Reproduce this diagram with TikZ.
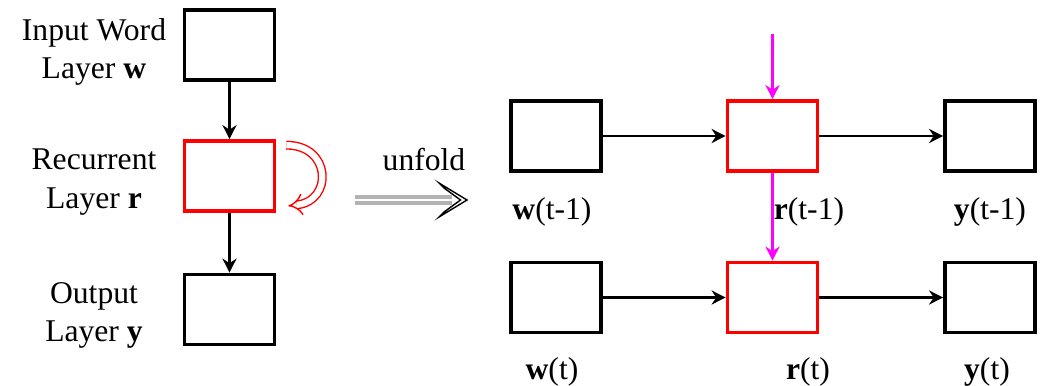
\documentclass[tikz,border=0pt]{standalone}
\usepackage{fontspec}
\setmainfont{Liberation Serif}
\usetikzlibrary{arrows.meta, calc}
\definecolor{feedmagenta}{RGB}{255,0,255}
\tikzset{
    my-box/.style={
      draw, line width=2.1pt, minimum width=1.8cm, minimum height=1.4cm, inner sep=0pt
    },
    my-rec-box/.style={
      my-box, draw=red
    },
    my-arrow/.style={
      -{Stealth[length=8pt, width=8pt]}, line width=1.5pt
    },
    my-feed/.style={
      my-arrow, draw=feedmagenta
    },
    my-label/.style={
      font=\fontsize{18}{22}\selectfont, align=center
    },
}

\begin{document}
\begin{tikzpicture}
        \useasboundingbox (0,0) rectangle (20.86,-7.7);

        % FOLDED NETWORK
        \node[my-box]     (IN)  at (4.59,-0.9)              {};
        \node[my-rec-box] (REC) at ($(IN) + (0, -2.62)$)    {};
        \node[my-box]     (OUT) at ($(REC) + (0, -2.67)$)   {};

        % LABELS
        \node[my-label] (INLABEL)  at ($(IN)  + (-2.71, -0.14)$) {Input Word\\Layer \textbf{w}};
        \node[my-label] (RECLABEL) at ($(REC) + (-2.71, -0.12)$) {Recurrent\\Layer \textbf{r}};
        \node[my-label] (OUTLABEL) at ($(OUT) + (-2.71, -0.12)$) {Output\\Layer \textbf{y}};

        % CONNECTIONS
        \draw[my-arrow] (IN)  -- (REC);
        \draw[my-arrow] (REC) -- (OUT);

        % SELF LOOP
        \coordinate (LOOPIN)  at ($(REC.north east) + (0.2, -0.12)$);
        \coordinate (LOOPOUT) at ($(REC.south east) + (0.24, 0.14)$);
        \draw[red, line width=0.8pt, double=white, double distance=3.5pt, -{Implies}]
            (LOOPIN) .. controls +(0.9, 0) and +(0.9, 0.1) .. (LOOPOUT);

        % UNFOLD
        \node[my-label] (UNFOLD) at (8.48, -3.2) {unfold};
        \coordinate (UNFOLDA) at ($(UNFOLD) + (-1.38, -0.8)$);
        \coordinate (UNFOLDB) at ($(UNFOLD) + (0.86, -0.8)$);
        \draw[gray!60, line width=1.8pt, double=white, double distance=1.6pt]
            (UNFOLDA) -- ($(UNFOLDB) + (-0.3, 0)$);
        \draw[line width=0.8pt, fill=white, line join=miter]
            (UNFOLDB) -- ++(-0.56, 0.34) -- ++(0.1, -0.1) -- ($(UNFOLDB) + (-0.13, 0)$)
            -- ($(UNFOLDB) + (-0.46, -0.24)$) -- ++(-0.1, -0.1) -- cycle;

        % UNFOLDED NETWORK, STEP t-1
        \node[my-box]     (W1) at (11.12, -2.72)           {};
        \node[my-rec-box] (R1) at ($(W1) + (4.33, 0)$)     {};
        \node[my-box]     (Y1) at ($(R1) + (4.35, 0)$)     {};

        % UNFOLDED NETWORK, STEP t
        \node[my-box]     (W2) at ($(W1) + (0, -3.23)$)    {};
        \node[my-rec-box] (R2) at ($(R1) + (0, -3.23)$)    {};
        \node[my-box]     (Y2) at ($(Y1) + (0, -3.23)$)    {};

        % LABELS
        \node[my-label] (W1LABEL) at ($(W1) + (-0.08, -1.52)$) {\textbf{w}(t-1)};
        \node[my-label] (R1LABEL) at ($(R1) + (0.73, -1.52)$)  {\textbf{r}(t-1)};
        \node[my-label] (Y1LABEL) at ($(Y1) + (0, -1.52)$)     {\textbf{y}(t-1)};
        \node[my-label] (W2LABEL) at ($(W2) + (-0.08, -1.49)$) {\textbf{w}(t)};
        \node[my-label] (R2LABEL) at ($(R2) + (0.71, -1.49)$)  {\textbf{r}(t)};
        \node[my-label] (Y2LABEL) at ($(Y2) + (-0.06, -1.49)$) {\textbf{y}(t)};

        % CONNECTIONS
        \draw[my-arrow] (W1) -- (R1);
        \draw[my-arrow] (R1) -- (Y1);
        \draw[my-arrow] (W2) -- (R2);
        \draw[my-arrow] (R2) -- (Y2);

        % RECURRENT FEED
        \coordinate (R1IN) at ($(R1.north) + (0, 1.3)$);
        \draw[my-feed] (R1IN) -- (R1.north);
        \draw[my-feed] (R1) -- (R2);

\end{tikzpicture}
\end{document}
